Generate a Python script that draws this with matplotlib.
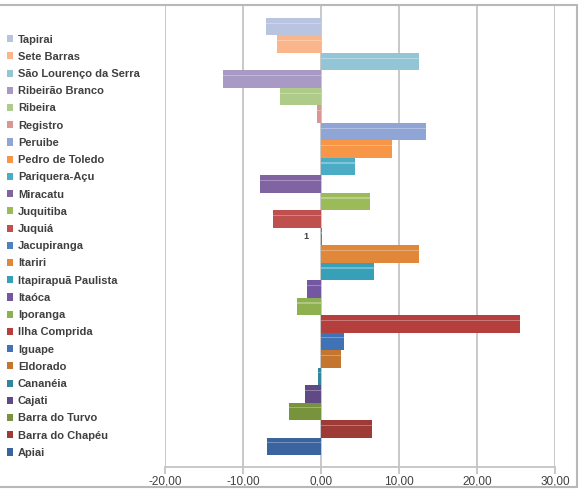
import numpy as np
import matplotlib
matplotlib.use("Agg")
import matplotlib.pyplot as plt
from matplotlib.patches import Rectangle

# series in Excel order (first series drawn at the bottom)
cidades = ['Apiai', 'Barra do Chapéu', 'Barra do Turvo', 'Cajati', 'Cananéia',
           'Eldorado', 'Iguape', 'Ilha Comprida', 'Iporanga', 'Itaóca',
           'Itapirapuã Paulista', 'Itariri', 'Jacupiranga', 'Juquiá', 'Juquitiba',
           'Miracatu', 'Pariquera-Açu', 'Pedro de Toledo', 'Peruibe', 'Registro',
           'Ribeira', 'Ribeirão Branco', 'São Lourenço da Serra', 'Sete Barras',
           'Tapirai']
valores = [-6.9, 6.5, -4.1, -2.0, -0.4,
           2.6, 2.9, 25.5, -3.1, -1.8,
           6.8, 12.6, 0.1, -6.1, 6.3,
           -7.8, 4.3, 9.1, 13.4, -0.5,
           -5.3, -12.6, 12.6, -5.6,
           -7.0]
cores = ['#3A64A0', '#9E3B37', '#77933C', '#5F4A86', '#31859C',
         '#C4762F', '#3F73B5', '#B43F3D', '#8EB04E', '#7357A0',
         '#36A0B8', '#E0873A', '#4F81BD', '#C0504D', '#9BBB59',
         '#8064A2', '#4BACC6', '#F79646', '#8EA5D6', '#D99694',
         '#AFCB8A', '#A89AC4', '#92C5D6', '#FAB58A',
         '#B8C4E0']
xticks = [-20, -10, 0, 10, 20, 30]
rotulo_jacupiranga = '1'

fig = plt.figure(figsize=(5.85, 4.9), dpi=100)
ax = fig.add_axes([165/585, 23/490, 390/585, 462/490])

pos = np.arange(len(cidades))
bars = ax.barh(pos, valores, height=1.0, color=cores, zorder=3)
# light streak like the excel gradient
ax.barh(pos + 0.2, valores, height=0.07, color='white', alpha=0.3, zorder=4)

ax.text(-1.9, 12, rotulo_jacupiranga, ha='center', va='center', fontsize=6.5,
        fontweight='bold', color='#404040', family='Liberation Sans')

ax.set_xlim(-20, 30)
ax.set_ylim(-0.5 - 12/17.48, 24.5 + 13/17.48)
ax.set_xticks(xticks)
ax.set_xticklabels([('%.2f' % t).replace('.', ',') for t in xticks])
ax.set_yticks([])
ax.grid(axis='x', color='#C4C4C4', linewidth=1.3, zorder=0)
for s in ['top', 'right', 'left']:
    ax.spines[s].set_visible(False)
ax.spines['bottom'].set_color('#C4C4C4')
ax.spines['bottom'].set_linewidth(1.3)
ax.tick_params(axis='x', length=5, width=1.3, color='#C4C4C4', labelsize=8.5,
               labelcolor='#404040', pad=0.8)
for lb in ax.get_xticklabels():
    lb.set_family('Liberation Sans')

# legend, top to bottom = Tapirai ... Apiai
handles = [bars[i] for i in range(len(cidades))][::-1]
labels = cidades[::-1]
leg = fig.legend(handles, labels, loc='upper left', bbox_to_anchor=(0.0, 0.943),
                 frameon=False, handlelength=0.6, handleheight=0.6,
                 handletextpad=0.4, labelspacing=0.65, borderaxespad=0.2,
                 prop={'family': 'Liberation Sans', 'weight': 'bold', 'size': 8})
for t in leg.get_texts():
    t.set_color('#404040')

# chart border
fig.patches.append(Rectangle((-0.01, 3/490), 577/585 + 0.01, 482/490,
                             transform=fig.transFigure, fill=False,
                             edgecolor='#B8B8B8', linewidth=1.5))

fig.savefig('out.png', dpi=100)
